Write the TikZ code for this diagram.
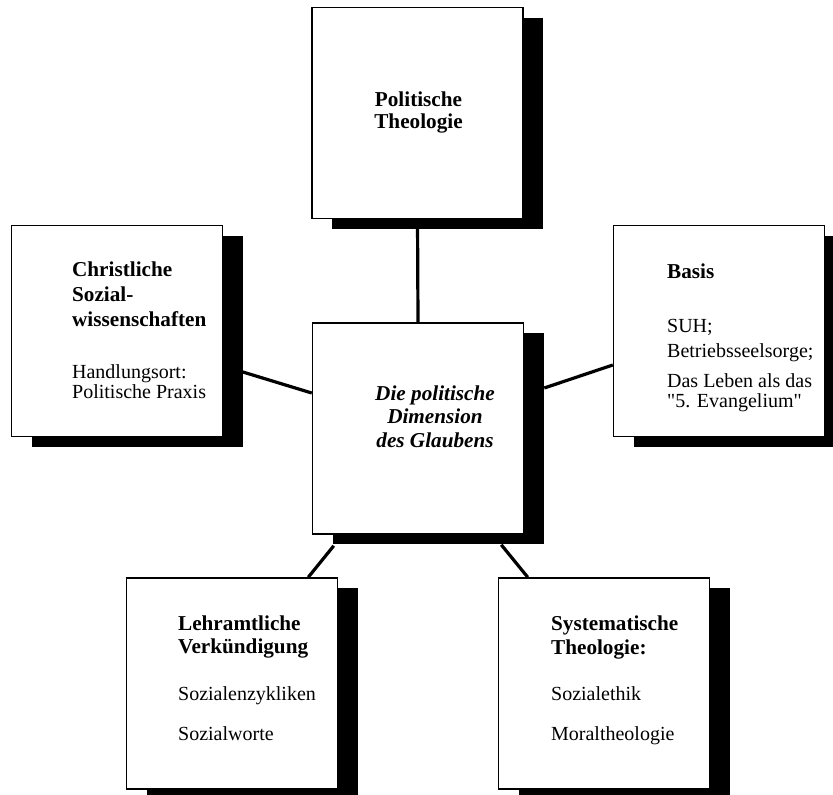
\documentclass[tikz,border=0pt]{standalone}
\usepackage{fontspec}
\setmainfont{Liberation Serif}[Ligatures=TeXOff]
\usepackage{tikz}
\usetikzlibrary{shadows,calc}
\newdimen\px \px=0.5pt
\newcommand{\boxhead}[1]{{\fontsize{10.6}{10}\selectfont\bfseries #1}}

\begin{document}
\begin{tikzpicture}[
  x=0.5pt, y=-0.5pt,
  card/.style={draw, line width=0.75pt, fill=white, inner sep=0pt,
    minimum width=211\px, minimum height=211\px,
    general shadow={fill=black, shadow xshift=20\px, shadow yshift=-10\px}},
  blurb/.style={inner sep=0pt, align=left, anchor=north west,
    font=\fontsize{10}{10}\selectfont},
  link/.style={draw, line width=1.6pt}]
    \useasboundingbox (0,0) rectangle (833,794);
    \node[card] (pol)  at (417.5,113)   {};
    \node[card] (chr)  at (117,331)     {};
    \node[card] (mid)  at (418,428.5)   {};
    \node[card] (bas)  at (719,331)     {};
    \node[card] (lehr) at (232,683.5)   {};
    \node[card] (sys)  at (604,683.5)   {};
%   the side links stop short of the middle box
    \draw[link] (pol.south) -- (mid.north);
    \draw[link] ($(chr.east)+(0,35)$) -- ($(mid.west)+(0,-35.5)$);
    \draw[link] ($(mid.east)+(20,-40.5)$) -- ($(bas.west)+(0,34)$);
    \draw[link] ($(mid.south west)+(22,11)$) -- ($(lehr.north east)+(-30,0)$);
    \draw[link] ($(mid.south east)+(-23,10)$) -- ($(sys.north west)+(30,0)$);
    \node[blurb, align=center, anchor=north] (poltxt) at ($(pol.north)+(1,85)$)
      {\boxhead{Politische}\\[2\px]\boxhead{Theologie}};
    \node[blurb] (chrtxt) at ($(chr.north west)+(61,37)$)
      {\boxhead{Christliche}\\[5\px]\boxhead{Sozial-}\\[5\px]\boxhead{wissenschaften}\\[32\px]Handlungsort:\\Politische Praxis};
    \node[blurb, align=center, anchor=north] (midtxt) at ($(mid.north)+(17,63)$)
      {\boxhead{\itshape Die politische}\\[3.5\px]\boxhead{\itshape Dimension}\\[3.5\px]\boxhead{\itshape des Glaubens}};
    \node[blurb] (bastxt) at ($(bas.north west)+(54,38.5)$)
      {\boxhead{Basis}\\[34\px]SUH;\\[5\px]Betriebsseelsorge;\\[10\px]Das Leben als das\\"5. Evangelium"};
    \node[blurb] (lehrtxt) at ($(lehr.north west)+(52,38)$)
      {\boxhead{Lehramtliche}\\[3\px]\boxhead{Verkündigung}\\[27\px]Sozialenzykliken\\[20\px]Sozialworte};
    \node[blurb] (systxt) at ($(sys.north west)+(53,38)$)
      {\boxhead{Systematische}\\[4\px]\boxhead{Theologie:}\\[26\px]Sozialethik\\[20\px]Moraltheologie};
\end{tikzpicture}
\end{document}
